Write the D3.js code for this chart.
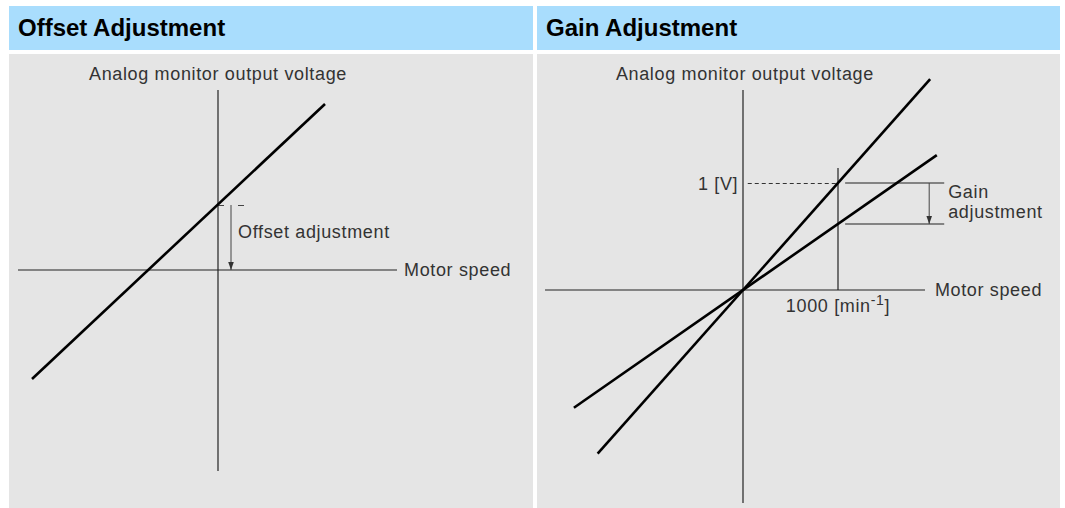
<!DOCTYPE html>
<html><head><meta charset="utf-8">
<script src="https://cdn.jsdelivr.net/npm/d3@7"></script>
<style>
html,body{margin:0;padding:0;background:#fff;}
svg{display:block;font-family:"Liberation Sans",Arial,Helvetica,sans-serif;}
</style></head>
<body><svg id="c" width="1065" height="508"></svg>
<script>
// ---- data ----
const panelTitles = ["Offset Adjustment", "Gain Adjustment"];
const yAxisLabel = "Analog monitor output voltage";
const xAxisLabel = "Motor speed";
// Offset panel (normalized speed / voltage)
const offsetSpeed = [-0.93, 0.535];
const offsetVoltage = [-0.545, 0.83];
const offsetValue = 0.325;          // voltage at zero speed
const offsetLabel = "Offset adjustment";
// Gain panel (speed in min^-1, voltage in V)
const gainHighSpeed = [-1530, 1970];
const gainHighVoltage = [-1.53, 1.97];
const gainLowSpeed = [-1780, 2040];
const gainLowVoltage = [-1.10, 1.26];
const refSpeed = 1000;
const refVoltage = 1;
const refVoltageLow = 0.617;
const refSpeedLabel = "1000 [min";
const refVoltageLabel = "1 [V]";
const gainLabel = ["Gain", "adjustment"];

const svg = d3.select("#c");
const TXT = "#333";
const FS = 18, LS = 0.65;

// arrow marker
svg.append("defs").append("marker")
  .attr("id","arr").attr("viewBox","0 0 10 10").attr("refX",10).attr("refY",5)
  .attr("markerWidth",8).attr("markerHeight",9).attr("markerUnits","userSpaceOnUse")
  .attr("orient","auto")
  .append("path").attr("d","M0,1.5L10,5L0,8.5Z").attr("fill","#333");

// panels
const panels = [{x:9,w:524},{x:537,w:523}];
panels.forEach((p,i)=>{
  svg.append("rect").attr("x",p.x).attr("y",6).attr("width",p.w).attr("height",44).attr("fill","#a9ddfd");
  svg.append("rect").attr("x",p.x).attr("y",54).attr("width",p.w).attr("height",454).attr("fill","#e5e5e5");
  svg.append("text").attr("x",p.x+9).attr("y",36).attr("font-size",24).attr("font-weight","bold")
    .attr("letter-spacing","0").attr("fill","#000").text(panelTitles[i]);
});

const line = (xs,ys)=>d3.line().x(d=>xs(d[0])).y(d=>ys(d[1]));
const txt = (g)=>g.append("text").attr("font-size",FS).attr("letter-spacing",LS).attr("fill",TXT);

// ---- Offset panel ----
{
  const x = d3.scaleLinear().domain([0,1]).range([218,418]);
  const y = d3.scaleLinear().domain([0,1]).range([270,70]);
  const g = svg.append("g");
  g.append("line").attr("x1",x(-1)).attr("x2",x(0.895)).attr("y1",y(0)).attr("y2",y(0)).attr("stroke","#222").attr("stroke-width",1.2);
  g.append("line").attr("x1",x(0)).attr("x2",x(0)).attr("y1",y(0.9)).attr("y2",y(-1.005)).attr("stroke","#222").attr("stroke-width",1.2);
  txt(g).attr("x",x(0)).attr("y",y(0.95)).attr("text-anchor","middle").text(yAxisLabel);
  txt(g).attr("x",x(0.93)).attr("y",y(0)).attr("dy","0.35em").text(xAxisLabel);
  // offset marker
  g.append("line").attr("x1",x(0)).attr("x2",x(0.135)).attr("y1",y(offsetValue)+0.5).attr("y2",y(offsetValue)+0.5)
    .attr("stroke","#444").attr("stroke-width",1).attr("stroke-dasharray","6,14");
  g.append("line").attr("x1",x(0.065)).attr("x2",x(0.065)).attr("y1",y(offsetValue)).attr("y2",y(0))
    .attr("stroke","#444").attr("stroke-width",1).attr("marker-end","url(#arr)");
  txt(g).attr("x",x(0.1)).attr("y",y(0.16)).text(offsetLabel);
  g.append("path").datum(offsetSpeed.map((s,i)=>[s,offsetVoltage[i]])).attr("d",line(x,y))
    .attr("fill","none").attr("stroke","#000").attr("stroke-width",2.6);
}

// ---- Gain panel ----
{
  const x = d3.scaleLinear().domain([0,1000]).range([743,838]);
  const y = d3.scaleLinear().domain([0,1]).range([290,183]);
  const g = svg.append("g");
  g.append("line").attr("x1",x(-2084)).attr("x2",x(1916)).attr("y1",y(0)).attr("y2",y(0)).attr("stroke","#222").attr("stroke-width",1.2);
  g.append("line").attr("x1",x(0)).attr("x2",x(0)).attr("y1",y(1.87)).attr("y2",y(-1.99)).attr("stroke","#222").attr("stroke-width",1.2);
  txt(g).attr("x",x(20)).attr("y",80).attr("text-anchor","middle").text(yAxisLabel);
  txt(g).attr("x",x(2020)).attr("y",y(0)).attr("dy","0.35em").text(xAxisLabel);
  g.append("line").attr("x1",x(refSpeed)).attr("x2",x(refSpeed)).attr("y1",y(1.14)).attr("y2",y(0)).attr("stroke","#222").attr("stroke-width",1.2);
  g.append("line").attr("x1",x(50)).attr("x2",x(refSpeed)).attr("y1",y(refVoltage)+0.5).attr("y2",y(refVoltage)+0.5)
    .attr("stroke","#333").attr("stroke-width",1).attr("stroke-dasharray","4,3");
  txt(g).attr("x",x(-50)).attr("y",y(refVoltage)).attr("dy","0.38em").attr("text-anchor","end").text(refVoltageLabel);
  const t = txt(g).attr("x",x(1000)).attr("y",y(0)+22).attr("text-anchor","middle");
  t.append("tspan").text(refSpeedLabel);
  t.append("tspan").attr("dy",-7).attr("font-size",14).text("-1");
  t.append("tspan").attr("dy",7).text("]");
  [refVoltage, refVoltageLow].forEach(v=>{
    g.append("line").attr("x1",x(1075)).attr("x2",x(2118)).attr("y1",y(v)).attr("y2",y(v)).attr("stroke","#222").attr("stroke-width",1.2);
  });
  g.append("line").attr("x1",x(1960)).attr("x2",x(1960)).attr("y1",y(refVoltage)).attr("y2",y(refVoltageLow))
    .attr("stroke","#444").attr("stroke-width",1).attr("marker-end","url(#arr)");
  gainLabel.forEach((s,i)=>{
    txt(g).attr("x",x(2160)).attr("y",y(refVoltage)+15+i*20).text(s);
  });
  [[gainHighSpeed,gainHighVoltage],[gainLowSpeed,gainLowVoltage]].forEach(([xs,vs])=>{
    g.append("path").datum(xs.map((s,i)=>[s,vs[i]])).attr("d",line(x,y))
      .attr("fill","none").attr("stroke","#000").attr("stroke-width",2.6);
  });
}
</script></body></html>
